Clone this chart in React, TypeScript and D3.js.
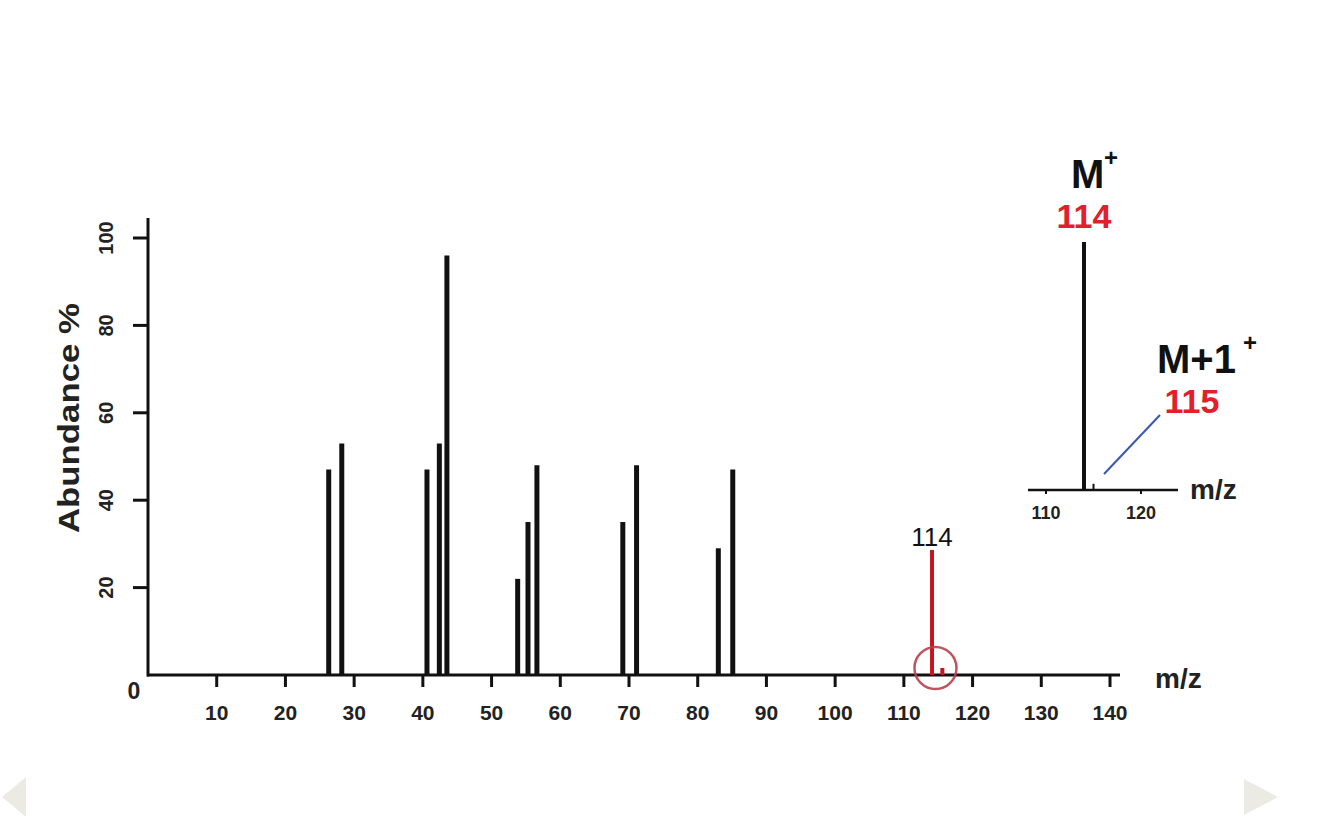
import React from "react";
import * as d3 from "d3";

const mzValues = [26.3, 28.2, 40.6, 42.4, 43.5, 53.8, 55.3, 56.6, 69.1, 71.1, 83.0, 85.1];
const abundanceValues = [47, 53, 47, 53, 96, 22, 35, 48, 35, 48, 29, 47];
const molIonMz = [114.1, 115.6];
const molIonAbundance = [28.6, 1.6];
const xTickValues = [10, 20, 30, 40, 50, 60, 70, 80, 90, 100, 110, 120, 130, 140];
const yTickValues = [20, 40, 60, 80, 100];
const insetMz = [114, 115];
const insetAbundance = [100, 2.5];
const insetTickValues = [110, 120];

const FONT = "'Liberation Sans', Arial, Helvetica, sans-serif";

export default function App() {
  const x = d3.scaleLinear().domain([0, 140]).range([148, 1110]);
  const y = d3.scaleLinear().domain([0, 100]).range([675, 238]);
  const ix = d3.scaleLinear().domain([110, 120]).range([1046, 1141]);
  const iy = d3.scaleLinear().domain([0, 100]).range([490, 242]);

  const peaks = mzValues.map((m, i) => ({ m, a: abundanceValues[i] }));
  const mol = molIonMz.map((m, i) => ({ m, a: molIonAbundance[i] }));
  const ins = insetMz.map((m, i) => ({ m, a: insetAbundance[i] }));

  return (
    <svg
      width={1334}
      height={828}
      style={{ position: "absolute", left: 0, top: 0, background: "#fff" }}
      fontFamily={FONT}
    >
      {/* nav arrows */}
      <polygon points="2,797 26,777 26,817" fill="#ebebe4" />
      <polygon points="1278,797 1244,779 1244,815" fill="#ebebe4" />

      {/* Y axis */}
      <line x1={148} x2={148} y1={218} y2={676.5} stroke="#111" strokeWidth={3} />
      {yTickValues.map((t) => (
        <g key={t}>
          <line x1={133} x2={148} y1={y(t)} y2={y(t)} stroke="#111" strokeWidth={3} />
          <text
            transform={`translate(${113},${y(t)}) rotate(-90)`}
            textAnchor="middle"
            fontSize={20}
            fontWeight="bold"
            fill="#222"
          >
            {t}
          </text>
        </g>
      ))}
      <text x={134} y={699} textAnchor="middle" fontSize={23} fontWeight="bold" fill="#222">
        0
      </text>
      <text
        transform={`translate(${79},${418}) rotate(-90)`}
        textAnchor="middle"
        fontSize={29}
        fontWeight="bold"
        fill="#222"
        textLength={230}
        lengthAdjust="spacingAndGlyphs"
      >
        Abundance %
      </text>

      {/* X axis */}
      <line x1={147} x2={1120} y1={y(0)} y2={y(0)} stroke="#111" strokeWidth={3} />
      {xTickValues.map((t) => (
        <g key={t}>
          <line x1={x(t)} x2={x(t)} y1={y(0)} y2={y(0) + 12} stroke="#111" strokeWidth={3} />
          <text x={x(t)} y={720} textAnchor="middle" fontSize={21} fontWeight="bold" fill="#222">
            {t}
          </text>
        </g>
      ))}
      <text x={1155} y={688} fontSize={28} fontWeight="bold" fill="#222">
        m/z
      </text>

      {/* peaks */}
      {peaks.map((p, i) => (
        <line key={i} x1={x(p.m)} x2={x(p.m)} y1={y(0)} y2={y(p.a)} stroke="#111" strokeWidth={5} />
      ))}
      {mol.map((p, i) => (
        <line key={i} x1={x(p.m)} x2={x(p.m)} y1={y(0)} y2={y(p.a)} stroke="#c4161c" strokeWidth={4} />
      ))}
      <text x={x(molIonMz[0])} y={546} textAnchor="middle" fontSize={26} fill="#111">
        114
      </text>
      <circle cx={x(114.6)} cy={668} r={21} fill="none" stroke="#b8404e" strokeWidth={2.5} opacity={0.9} />

      {/* inset */}
      <line x1={1028} x2={1178} y1={iy(0)} y2={iy(0)} stroke="#111" strokeWidth={2.5} />
      {insetTickValues.map((t) => (
        <g key={t}>
          <line x1={ix(t)} x2={ix(t)} y1={iy(0)} y2={iy(0) + 4} stroke="#111" strokeWidth={2} />
          <text x={ix(t)} y={519} textAnchor="middle" fontSize={18} fontWeight="bold" fill="#222">
            {t}
          </text>
        </g>
      ))}
      {ins.map((p, i) => (
        <line key={i} x1={ix(p.m)} x2={ix(p.m)} y1={iy(0)} y2={iy(p.a)} stroke="#111" strokeWidth={i === 0 ? 4 : 2} />
      ))}
      <text x={1190} y={499} fontSize={28} fontWeight="bold" fill="#222">
        m/z
      </text>
      <line x1={1104} x2={1160} y1={474} y2={415} stroke="#3a56b8" strokeWidth={2} />
      <text x={1071} y={188} fontSize={40} fontWeight="bold" fill="#111">
        M
      </text>
      <text x={1104} y={166} fontSize={24} fontWeight="bold" fill="#111">
        +
      </text>
      <text x={ix(insetMz[0])} y={228} textAnchor="middle" fontSize={34} fontWeight="bold" fill="#e0202a">
        114
      </text>
      <text x={1157} y={373} fontSize={40} fontWeight="bold" fill="#111">
        M+1
      </text>
      <text x={1243} y={351} fontSize={24} fontWeight="bold" fill="#111">
        +
      </text>
      <text x={1192} y={413} textAnchor="middle" fontSize={34} fontWeight="bold" fill="#e0202a">
        115
      </text>
    </svg>
  );
}
